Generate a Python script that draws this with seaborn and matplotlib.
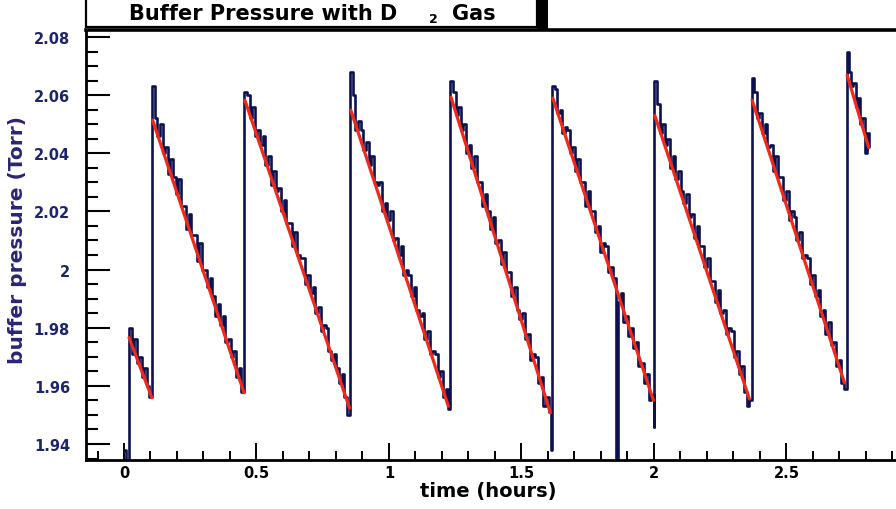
import numpy as np
import pandas as pd
import matplotlib
matplotlib.use("Agg")
import matplotlib.pyplot as plt
import seaborn as sns
from matplotlib.patches import Rectangle
from matplotlib.ticker import MultipleLocator, FixedLocator, FixedFormatter

# ---------------- data ----------------
lead_t = [0.000, 0.006, 0.014]
lead_p = [1.938, 1.925, 1.925]

seg_t0 = [0.019, 0.106, 0.454, 0.853, 1.231, 1.615, 2.001, 2.368, 2.727]
seg_t1 = [0.104, 0.452, 0.851, 1.224, 1.612, 1.999, 2.360, 2.717, 2.812]

seg1 = [1.980, 1.971, 1.976, 1.968, 1.970, 1.963, 1.966, 1.960, 1.956, 1.957]
seg2 = [2.063, 2.052, 2.046, 2.050, 2.040, 2.042, 2.033, 2.038, 2.032, 2.026, 2.031,
        2.022, 2.022, 2.014, 2.019, 2.012, 2.012, 2.003, 2.009, 2.000, 2.000,
        1.994, 1.997, 1.991, 1.984, 1.988, 1.981, 1.984, 1.975, 1.976, 1.970,
        1.972, 1.963, 1.966, 1.958, 1.959]
seg3 = [2.061, 2.060, 2.052, 2.056, 2.046, 2.048, 2.043, 2.046, 2.036, 2.039, 2.029,
        2.034, 2.027, 2.028, 2.020, 2.024, 2.016, 2.016, 2.008, 2.013, 2.005,
        2.004, 2.004, 1.995, 1.998, 1.992, 1.994, 1.985, 1.987, 1.979, 1.981,
        1.980, 1.972, 1.969, 1.971, 1.966, 1.961, 1.964, 1.956, 1.950, 1.954]
seg4 = [2.068, 2.060, 2.048, 2.051, 2.048, 2.041, 2.044, 2.036, 2.039, 2.030, 2.029,
        2.030, 2.020, 2.023, 2.017, 2.020, 2.010, 2.011, 2.005, 2.008, 1.998,
        2.000, 1.998, 1.991, 1.994, 1.986, 1.984, 1.985, 1.976, 1.979, 1.971,
        1.972, 1.971, 1.963, 1.965, 1.956, 1.959, 1.952]
seg5 = [2.065, 2.061, 2.053, 2.056, 2.048, 2.050, 2.040, 2.043, 2.035, 2.039, 2.030,
        2.030, 2.022, 2.026, 2.020, 2.014, 2.018, 2.009, 2.010, 2.002, 2.006,
        1.999, 1.999, 1.991, 1.994, 1.986, 1.983, 1.985, 1.976, 1.978, 1.969,
        1.971, 1.970, 1.961, 1.963, 1.953, 1.956, 1.951, 1.938]
seg6 = [2.063, 2.062, 2.054, 2.055, 2.047, 2.049, 2.048, 2.040, 2.042, 2.034, 2.038,
        2.030, 2.030, 2.022, 2.027, 2.020, 2.020, 2.013, 2.015, 2.006, 2.009,
        2.008, 1.999, 2.001, 1.997, 1.900, 1.989, 1.992, 1.982, 1.984, 1.977,
        1.980, 1.973, 1.975, 1.967, 1.968, 1.961, 1.964, 1.955, 1.957, 1.946]
seg7 = [2.065, 2.057, 2.047, 2.050, 2.043, 2.045, 2.035, 2.039, 2.031, 2.034, 2.027,
        2.023, 2.026, 2.018, 2.019, 2.011, 2.015, 2.008, 2.008, 2.001, 2.004,
        1.996, 1.996, 1.989, 1.993, 1.985, 1.986, 1.978, 1.980, 1.979, 1.970,
        1.972, 1.964, 1.967, 1.958, 1.953, 1.955]
seg8 = [2.066, 2.061, 2.052, 2.054, 2.047, 2.050, 2.042, 2.043, 2.034, 2.039, 2.032,
        2.032, 2.024, 2.027, 2.017, 2.020, 2.018, 2.010, 2.013, 2.004, 2.005,
        2.004, 1.995, 1.998, 1.991, 1.993, 1.984, 1.986, 1.978, 1.982, 1.974,
        1.975, 1.967, 1.969, 1.961, 1.959]
seg9 = [2.075, 2.068, 2.063, 2.064, 2.056, 2.059, 2.050, 2.052, 2.040, 2.047, 2.042]

# linear fits (red)
fit_t0 = [0.019, 0.108, 0.456, 0.856, 1.234, 1.618, 2.003, 2.370, 2.729]
fit_t1 = [0.105, 0.453, 0.851, 1.224, 1.609, 1.998, 2.360, 2.719, 2.810]
fit_p0 = [1.9766, 2.0514, 2.0583, 2.0548, 2.0593, 2.0590, 2.0530, 2.0583, 2.0669]
fit_p1 = [1.9559, 1.9576, 1.9524, 1.9530, 1.9507, 1.9550, 1.9555, 1.9610, 2.0420]

xtick_vals = [0, 0.5, 1, 1.5, 2, 2.5]
xtick_labels = ["0", "0.5", "1", "1.5", "2", "2.5"]
ytick_vals = [1.94, 1.96, 1.98, 2.0, 2.02, 2.04, 2.06, 2.08]
ytick_labels = ["1.94", "1.96", "1.98", "2", "2.02", "2.04", "2.06", "2.08"]

# ---------------- build tables ----------------
segs = [seg1, seg2, seg3, seg4, seg5, seg6, seg7, seg8, seg9]
ts = [np.array(lead_t)]
ps = [np.array(lead_p)]
for a, b, vals in zip(seg_t0, seg_t1, segs):
    ts.append(np.linspace(a, b, len(vals)))
    ps.append(np.array(vals))
data = pd.DataFrame({"t": np.concatenate(ts), "p": np.concatenate(ps)})

fit_rows = []
for i in range(len(fit_t0)):
    fit_rows.append({"seg": i, "t": fit_t0[i], "p": fit_p0[i]})
    fit_rows.append({"seg": i, "t": fit_t1[i], "p": fit_p1[i]})
fits = pd.DataFrame(fit_rows)

# ---------------- figure ----------------
sns.set_style("ticks")
plt.rcParams["font.family"] = ["DejaVu Sans"]

W, H = 896, 510
fig = plt.figure(figsize=(W / 100, H / 100), dpi=100)
fig.patch.set_facecolor("white")

def fx(px):
    return px / W

def fy(py):
    return 1 - py / H

ax = fig.add_axes([fx(86), fy(461), fx(906 - 86), (461 - 31) / H])
ax.set_facecolor("white")

sns.lineplot(data=data, x="t", y="p", sort=False, estimator=None,
             color="#0c1150", linewidth=1.9, drawstyle="steps-post", ax=ax)
sns.lineplot(data=fits, x="t", y="p", units="seg", estimator=None, sort=False,
             color="#ee2a1c", linewidth=2.3, ax=ax)

ax.set_xlim(-0.1434, 2.951)
ax.set_ylim(1.9345, 2.0824)
ax.set_xlabel("")
ax.set_ylabel("")

ax.xaxis.set_major_locator(FixedLocator(xtick_vals))
ax.xaxis.set_major_formatter(FixedFormatter(xtick_labels))
ax.xaxis.set_minor_locator(MultipleLocator(0.1))
ax.yaxis.set_major_locator(FixedLocator(ytick_vals))
ax.yaxis.set_major_formatter(FixedFormatter(ytick_labels))
ax.yaxis.set_minor_locator(MultipleLocator(0.005))

ax.tick_params(axis="x", which="major", direction="in", length=12.5, width=1.4,
               color="black", labelsize=10.5, labelcolor="black", pad=3.5)
ax.tick_params(axis="x", which="minor", direction="in", length=6.5, width=1.4, color="black")
ax.tick_params(axis="y", which="major", direction="in", length=17, width=1.5,
               color="black", labelsize=10.5, labelcolor="#1d256a", pad=11.5)
ax.tick_params(axis="y", which="minor", direction="in", length=8.5, width=1.5, color="black")
for lab in ax.get_xticklabels() + ax.get_yticklabels():
    lab.set_fontweight("bold")

for side in ["left", "bottom"]:
    ax.spines[side].set_linewidth(2.0)
    ax.spines[side].set_color("black")
ax.spines["top"].set_linewidth(2.6)
ax.spines["top"].set_color("black")
ax.spines["right"].set_visible(False)

# axis titles
fig.text(fx(18), fy(240), "buffer pressure (Torr)", rotation=90, ha="center", va="center",
         fontsize=14.5, fontweight="bold", color="#2a2574")
fig.text(fx(488), fy(492), "time (hours)", ha="center", va="center",
         fontsize=14, fontweight="bold", color="black")

# title box with shadow
fig.patches.append(Rectangle((fx(537), fy(32)), fx(11), 40 / H, transform=fig.transFigure,
                             facecolor="black", edgecolor="none", zorder=5))
fig.patches.append(Rectangle((fx(86), fy(28)), fx(537 - 86), 40 / H, transform=fig.transFigure,
                             facecolor="white", edgecolor="black", linewidth=1.6, zorder=6))
fig.text(fx(129), fy(19.5), "Buffer Pressure with D", ha="left", va="baseline",
         fontsize=15, fontweight="bold", color="black", zorder=7)
fig.text(fx(429), fy(23), "2", ha="left", va="baseline",
         fontsize=9, fontweight="bold", color="black", zorder=7)
fig.text(fx(452), fy(19.5), "Gas", ha="left", va="baseline",
         fontsize=15, fontweight="bold", color="black", zorder=7)

fig.savefig("out.png", dpi=100, facecolor="white")
